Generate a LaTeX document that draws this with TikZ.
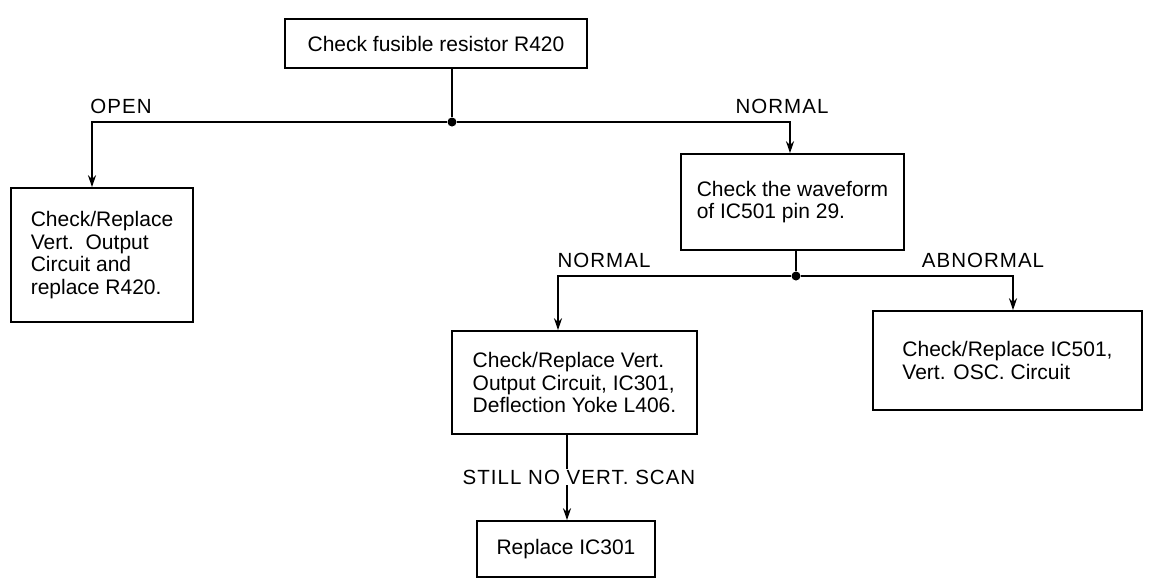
\documentclass[tikz,border=0pt]{standalone}
\usepackage{fontspec}
\setmainfont{Liberation Sans}
\usetikzlibrary{arrows.meta}
\begin{document}
\begin{tikzpicture}[x=1pt,y=-1pt,
  box/.style={draw, line width=1.6pt, align=left, font=\fontsize{21}{22.5}\selectfont, inner sep=0pt},
  lbl/.style={font=\fontsize{20.5}{22}\selectfont\addfontfeature{LetterSpace=5}, inner sep=1pt},
  conn/.style={line width=1.6pt},
  arr/.style={conn, -{Stealth[length=12pt,width=8pt]}},
  dot/.style={circle, fill, inner sep=0pt, minimum size=9pt}]
\useasboundingbox (0,0) rectangle (1152,582);
% boxes
\node[box, minimum width=302pt, minimum height=49pt] (top) at (436,43.5) {Check fusible resistor R420};
\node[box, minimum width=182pt, minimum height=134pt] (left) at (102,255) {Check/Replace\\Vert.~~Output\\Circuit and\\replace R420.};
\node[box, minimum width=223pt, minimum height=96pt] (mid) at (792.5,202) {Check the waveform\\of IC501 pin 29.};
\node[box, minimum width=245pt, minimum height=103pt] (n2) at (574.5,382.5) {Check/Replace Vert.\\Output Circuit, IC301,\\Deflection Yoke L406.};
\node[box, minimum width=269pt, minimum height=99pt] (ab) at (1007.5,360.5) {Check/Replace IC501,\\Vert. OSC. Circuit};
\node[box, minimum width=178pt, minimum height=56pt] (rep) at (566,549) {Replace IC301};
% junctions
\node[dot] (j1) at (452,122) {};
\coordinate (a1) at (92,122);
\coordinate (a2) at (790,122);
\node[dot] (j2) at (796,276) {};
\coordinate (b1) at (558,276);
\coordinate (b2) at (1013,276);
\coordinate (c1) at (567,0);
% labels
\node[lbl] (lopen) at (121,106) {OPEN};
\node[lbl] (lnorm1) at (782,106) {NORMAL};
\node[lbl] (lnorm2) at (604,260) {NORMAL};
\node[lbl] (labn) at (983,260) {ABNORMAL};
\node[lbl] (still) at (579,477) {STILL NO VERT. SCAN};
% connectors
\draw[conn] (top.south -| j1) -- (j1);
\draw[arr] (j1) -- (a1) -- (a1 |- left.north);
\draw[arr] (j1) -- (a2) -- (a2 |- mid.north);
\draw[conn] (mid.south -| j2) -- (j2);
\draw[arr] (j2) -- (b1) -- (b1 |- n2.north);
\draw[arr] (j2) -- (b2) -- (b2 |- ab.north);
\draw[conn] (c1 |- n2.south) -- (c1 |- still.north);
\draw[arr] (c1 |- still.south) -- (c1 |- rep.north);
\end{tikzpicture}
\end{document}
